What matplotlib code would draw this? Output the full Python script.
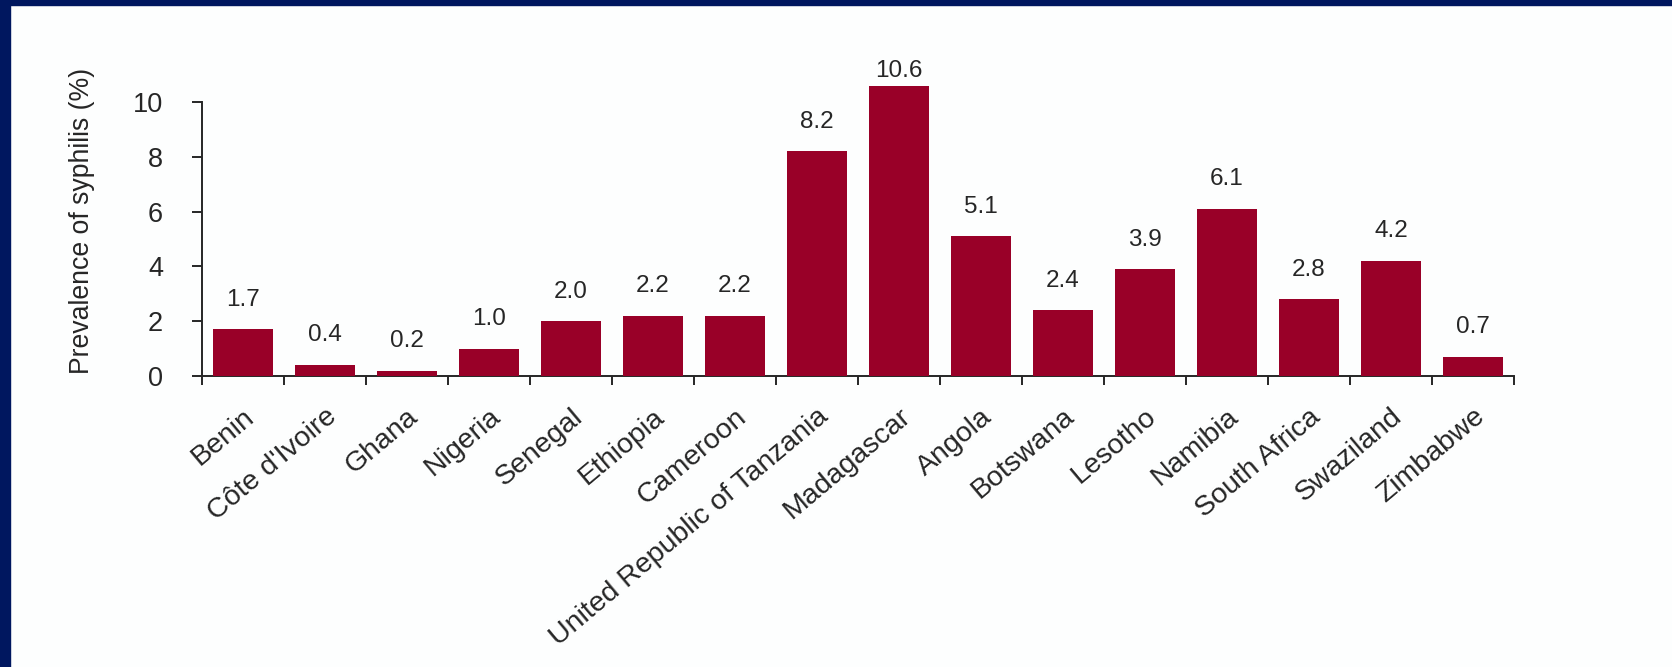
import matplotlib
matplotlib.use("Agg")
import matplotlib.pyplot as plt
import matplotlib.transforms as mtransforms
from matplotlib.patches import Rectangle
import numpy as np

countries = [
    "Benin", "Côte d'Ivoire", "Ghana", "Nigeria", "Senegal", "Ethiopia",
    "Cameroon", "United Republic of Tanzania", "Madagascar", "Angola",
    "Botswana", "Lesotho", "Namibia", "South Africa", "Swaziland", "Zimbabwe",
]
prevalence = [1.7, 0.4, 0.2, 1.0, 2.0, 2.2, 2.2, 8.2, 10.6, 5.1, 2.4, 3.9, 6.1, 2.8, 4.2, 0.7]
value_labels = ["1.7", "0.4", "0.2", "1.0", "2.0", "2.2", "2.2", "8.2", "10.6", "5.1",
                "2.4", "3.9", "6.1", "2.8", "4.2", "0.7"]
y_ticks = [0, 2, 4, 6, 8, 10]

bar_color = "#990028"
frame_color = "#00175f"
ink = "#262626"

plt.rcParams["font.family"] = ["Liberation Sans", "DejaVu Sans"]

W, H = 1672, 667
fig = plt.figure(figsize=(W / 100, H / 100), dpi=100, facecolor="#fdfefe")

# navy frame along top and left edge
fig.patches.append(Rectangle((0, 1 - 5 / H), 1, 5 / H, transform=fig.transFigure,
                             color=frame_color, zorder=0))
fig.patches.append(Rectangle((0, 0), 10 / W, 1, transform=fig.transFigure,
                             color=frame_color, zorder=0))

ax = fig.add_axes([202 / W, 1 - 376 / H, (1514 - 202) / W, (376 - 102) / H])
ax.set_facecolor("none")

x = np.arange(len(countries)) + 0.5
bars = ax.bar(x, prevalence, width=0.74, color=bar_color, clip_on=False, zorder=3)

ax.set_xlim(0, len(countries))
ax.set_ylim(0, 10)

for rect, v, txt in zip(bars, prevalence, value_labels):
    off = 6 if v > ax.get_ylim()[1] else 17
    ax.annotate(txt, (rect.get_x() + rect.get_width() / 2, v),
                xytext=(0, off), textcoords="offset points",
                ha="center", va="baseline", fontsize=17.5, color=ink,
                annotation_clip=False)

for side in ["top", "right"]:
    ax.spines[side].set_visible(False)
for side in ["left", "bottom"]:
    ax.spines[side].set_color(ink)
    ax.spines[side].set_linewidth(1.4)
ax.spines["left"].set_bounds(0, 10)

ax.set_yticks(y_ticks)
ax.set_yticklabels([str(t) for t in y_ticks])
ax.tick_params(axis="y", direction="out", length=7, width=1.4, color=ink,
               pad=21, labelsize=19.5, labelcolor=ink)

# category boundaries get the tick marks, names sit under bar centres
ax.set_xticks(np.arange(len(countries) + 1))
ax.set_xticklabels([])
ax.set_xticks(x, minor=True)
ax.set_xticklabels(countries, minor=True, rotation=40, ha="right",
                   rotation_mode="anchor", va="center")
ax.tick_params(axis="x", which="major", direction="out", length=6.5, width=1.4, color=ink)
ax.tick_params(axis="x", which="minor", length=0, pad=27, labelsize=20.5, labelcolor=ink)

shift = mtransforms.ScaledTranslation(8 / 100, 0, fig.dpi_scale_trans)
for lab in ax.get_xticklabels(minor=True):
    lab.set_transform(lab.get_transform() + shift)

ax.set_ylabel("Prevalence of syphilis (%)", fontsize=19.2, color=ink)
ax.yaxis.set_label_coords(-0.0816, 0.565)

fig.savefig("out.png", dpi=100, facecolor=fig.get_facecolor())
